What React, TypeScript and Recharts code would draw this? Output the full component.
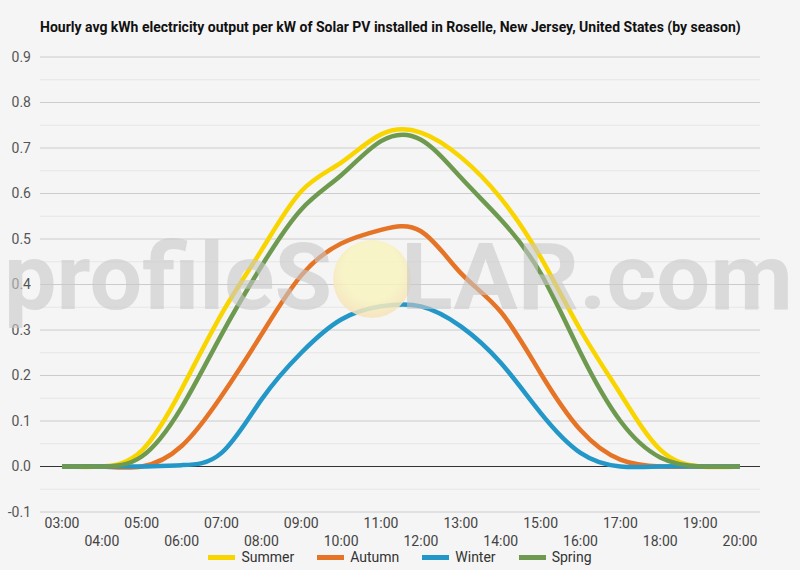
import React from "react";
import {
  LineChart,
  Line,
  XAxis,
  YAxis,
  CartesianGrid,
  ReferenceLine,
} from "recharts";

const hours = [
  "03:00", "04:00", "05:00", "06:00", "07:00", "08:00", "09:00", "10:00", "11:00",
  "12:00", "13:00", "14:00", "15:00", "16:00", "17:00", "18:00", "19:00", "20:00",
];

const summer = [0, 0, 0.035, 0.17, 0.335, 0.475, 0.605, 0.668, 0.73, 0.734, 0.68, 0.59, 0.46, 0.3, 0.16, 0.037, 0, 0];
const autumn = [0, 0, 0, 0.045, 0.155, 0.29, 0.42, 0.49, 0.52, 0.517, 0.425, 0.34, 0.205, 0.08, 0.015, 0, 0, 0];
const winter = [0, 0, 0, 0.003, 0.03, 0.147, 0.25, 0.323, 0.352, 0.352, 0.308, 0.228, 0.118, 0.03, 0, 0, 0, 0];
const spring = [0, 0, 0.022, 0.13, 0.29, 0.44, 0.565, 0.64, 0.715, 0.718, 0.635, 0.543, 0.425, 0.25, 0.1, 0.02, 0, 0];

const majorTicks = [-0.1, 0, 0.1, 0.2, 0.3, 0.4, 0.5, 0.6, 0.7, 0.8, 0.9];
const minorTicks = [-0.05, 0.05, 0.15, 0.25, 0.35, 0.45, 0.55, 0.65, 0.75, 0.85];

const series = [
  { key: "Summer", values: summer, color: "#F9D500" },
  { key: "Autumn", values: autumn, color: "#E57426" },
  { key: "Winter", values: winter, color: "#2397C7" },
  { key: "Spring", values: spring, color: "#6E9A4F" },
];

const data = hours.map((h, i) => {
  const row: Record<string, string | number> = { hour: h };
  series.forEach((s) => (row[s.key] = s.values[i]));
  return row;
});

const FONT = "Roboto, sans-serif";

// alternate rows: odd hours on top, even hours below
const HourTick = ({ x, y, payload, index }: any) => (
  <text
    x={x}
    y={y + (index % 2 === 0 ? 8 : 26)}
    textAnchor="middle"
    fontSize={14}
    fontFamily={FONT}
    fill="#444"
  >
    {payload.value}
  </text>
);

export default function App() {
  return (
    <div style={{ position: "fixed", left: 0, top: 0, width: 800, height: 570, background: "#F5F5F5" }}>
      <div
        style={{
          position: "absolute",
          left: 40,
          top: 19,
          fontFamily: FONT,
          fontWeight: 700,
          fontSize: 14,
          color: "#111",
          whiteSpace: "nowrap",
        }}
      >
        Hourly avg kWh electricity output per kW of Solar PV installed in Roselle, New Jersey, United States (by season)
      </div>
      <LineChart
        width={800}
        height={570}
        data={data}
        margin={{ top: 57, right: 40, left: 0, bottom: 0 }}
      >
        <CartesianGrid horizontalValues={minorTicks} vertical={false} stroke="#E6E6E6" />
        <CartesianGrid horizontalValues={majorTicks} vertical={false} stroke="#CCCCCC" />
        <XAxis
          dataKey="hour"
          interval={0}
          axisLine={false}
          tickLine={false}
          padding={{ left: 22, right: 20 }}
          tick={<HourTick />}
          height={58}
        />
        <YAxis
          width={40}
          domain={[-0.1, 0.9]}
          ticks={majorTicks}
          axisLine={false}
          tickLine={false}
          tickSize={0}
          tickMargin={9}
          tickFormatter={(v: number) => v.toFixed(1)}
          tick={{ fontSize: 14, fill: "#555", fontFamily: FONT }}
        />
        <ReferenceLine y={0} stroke="#333" strokeWidth={1} />
        {series.map((s) => (
          <Line
            key={s.key}
            type="natural"
            dataKey={s.key}
            stroke={s.color}
            strokeWidth={4.5}
            dot={false}
            isAnimationActive={false}
          />
        ))}
      </LineChart>
      <div
        style={{
          position: "absolute",
          left: 0,
          top: 549,
          width: 800,
          display: "flex",
          justifyContent: "center",
          gap: 23,
          fontFamily: FONT,
          fontSize: 14,
          color: "#333",
        }}
      >
        {series.map((s) => (
          <div key={s.key} style={{ display: "flex", alignItems: "center" }}>
            <span style={{ display: "inline-block", width: 27, height: 5, background: s.color, marginRight: 6 }} />
            {s.key}
          </div>
        ))}
      </div>
      {/* watermark sits on top of the lines */}
      <svg
        width={800}
        height={570}
        style={{ position: "absolute", left: 0, top: 0, pointerEvents: "none" }}
      >
        <defs>
          <radialGradient id="sun" cx="50%" cy="40%" r="60%">
            <stop offset="60%" stopColor="#F8F4C0" />
            <stop offset="100%" stopColor="#F6E2B8" />
          </radialGradient>
        </defs>
        <text
          x={4}
          y={309}
          fontFamily={FONT}
          fontWeight={700}
          fontSize={93}
          fill="#C8C8C8"
          fillOpacity={0.6}
          textLength={328}
          lengthAdjust="spacingAndGlyphs"
        >
          profileS
        </text>
        <circle cx={372} cy={279} r={39} fill="url(#sun)" fillOpacity={0.85} />
        <text
          x={401}
          y={309}
          fontFamily={FONT}
          fontWeight={700}
          fontSize={93}
          fill="#C8C8C8"
          fillOpacity={0.6}
          textLength={392}
          lengthAdjust="spacingAndGlyphs"
        >
          LAR.com
        </text>
      </svg>
    </div>
  );
}
